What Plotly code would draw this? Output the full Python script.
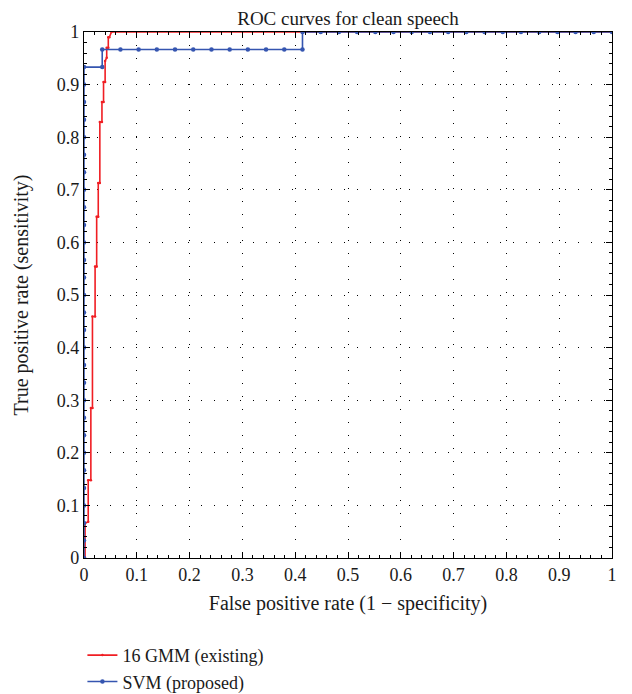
import plotly.graph_objects as go

# SVM (proposed) ROC points
svm_fpr = [0, 0, 0, 0, 0, 0, 0, 0, 0, 0, 0, 0, 0, 0, 0, 0, 0, 0, 0, 0, 0, 0, 0, 0, 0, 0, 0, 0, 0,
           0.0345, 0.0345,
           0.069, 0.1034, 0.1379, 0.1724, 0.2069, 0.2414, 0.2759, 0.3103, 0.3448, 0.3793, 0.4138,
           0.4138,
           0.4483, 0.4828, 0.5172, 0.5517, 0.5862, 0.6207, 0.6552, 0.6897, 0.7241, 0.7586,
           0.7931, 0.8276, 0.8621, 0.8966, 0.931, 0.9655, 1.0]
svm_tpr = [0, 0.0333, 0.0667, 0.1, 0.1333, 0.1667, 0.2, 0.2333, 0.2667, 0.3, 0.3333, 0.3667,
           0.4, 0.4333, 0.4667, 0.5, 0.5333, 0.5667, 0.6, 0.6333, 0.6667, 0.7, 0.7333, 0.7667,
           0.8, 0.8333, 0.8667, 0.9, 0.9333,
           0.9333, 0.9667,
           0.9667, 0.9667, 0.9667, 0.9667, 0.9667, 0.9667, 0.9667, 0.9667, 0.9667, 0.9667, 0.9667,
           1.0,
           1.0, 1.0, 1.0, 1.0, 1.0, 1.0, 1.0, 1.0, 1.0, 1.0,
           1.0, 1.0, 1.0, 1.0, 1.0, 1.0, 1.0]

# 16 GMM (existing) ROC points
gmm_fpr = [0.002, 0.002, 0.008, 0.008, 0.013, 0.013, 0.016, 0.016, 0.021, 0.021, 0.024, 0.024,
           0.027, 0.027, 0.030, 0.030, 0.034, 0.034, 0.037, 0.037, 0.040, 0.040, 0.043, 0.043,
           0.046, 0.046, 0.048, 0.052, 1.0]
gmm_tpr = [0.0, 0.066, 0.069, 0.148, 0.148, 0.285, 0.285, 0.459, 0.459, 0.554, 0.554, 0.649,
           0.649, 0.713, 0.713, 0.829, 0.829, 0.867, 0.867, 0.905, 0.905, 0.945, 0.951, 0.970,
           0.970, 0.990, 0.990, 1.0, 1.0]

x_ticks = [0, 0.1, 0.2, 0.3, 0.4, 0.5, 0.6, 0.7, 0.8, 0.9, 1]
x_tick_text = ["0", "0.1", "0.2", "0.3", "0.4", "0.5", "0.6", "0.7", "0.8", "0.9", "1"]
y_ticks = x_ticks
y_tick_text = x_tick_text

FONT = "Liberation Serif, Times New Roman, serif"
RED = "#f01e23"
BLUE = "#3555b0"
TXT = "#1a1a1a"

fig = go.Figure()
fig.add_trace(go.Scatter(x=gmm_fpr, y=gmm_tpr, mode="lines+markers", name="16 GMM (existing)",
                         line=dict(color=RED, width=1.6),
                         marker=dict(color=RED, size=2.5)))
fig.add_trace(go.Scatter(x=svm_fpr, y=svm_tpr, mode="lines+markers", name="SVM (proposed)",
                         line=dict(color=BLUE, width=1.6),
                         marker=dict(color=BLUE, size=4.5)))

axis_common = dict(
    range=[0, 1], showline=True, linecolor="black", linewidth=1.2, mirror="ticks",
    ticks="inside", ticklen=6, tickcolor="black", tickwidth=1,
    showgrid=True, gridcolor="black", gridwidth=1, griddash="1px,12px",
    zeroline=False, tickfont=dict(family=FONT, size=18, color=TXT),
    minor=dict(ticks="inside", ticklen=3, tickcolor="black", dtick=0.02, showgrid=False),
)

fig.update_xaxes(**axis_common, tickvals=x_ticks, ticktext=x_tick_text,
                 title=dict(text="False positive rate (1 − specificity)",
                            font=dict(family=FONT, size=20, color=TXT), standoff=12))
fig.update_yaxes(**axis_common, tickvals=y_ticks, ticktext=y_tick_text,
                 title=dict(text="True positive rate (sensitivity)",
                            font=dict(family=FONT, size=20, color=TXT), standoff=22))

fig.update_layout(
    width=632, height=694,
    margin=dict(l=76, r=28, t=24, b=144, autoexpand=False),
    plot_bgcolor="white", paper_bgcolor="white",
    title=dict(text="ROC curves for clean speech", x=0.538, xanchor="center",
               y=0.9856, yanchor="middle",
               font=dict(family=FONT, size=19, color=TXT)),
    legend=dict(x=-0.003, y=-0.15, xanchor="left", yanchor="top",
                font=dict(family=FONT, size=18, color=TXT),
                bgcolor="rgba(0,0,0,0)", tracegroupgap=0, itemwidth=30),
    showlegend=True,
)

fig.write_html("out.html")
